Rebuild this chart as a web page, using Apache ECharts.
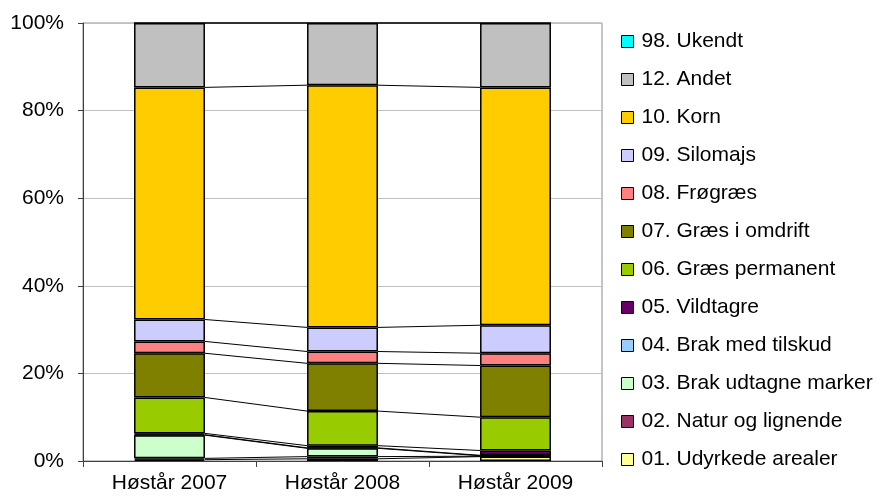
<!DOCTYPE html>
<html>
<head>
<meta charset="utf-8">
<script src="https://cdn.jsdelivr.net/npm/echarts@6/dist/echarts.min.js"></script>
<style>html,body{margin:0;padding:0;background:#fff}#c{width:877px;height:501px}</style>
</head>
<body>
<div id="c"></div>
<script>
const categories = ['Høstår 2007', 'Høstår 2008', 'Høstår 2009'];
const yTicks = [0, 20, 40, 60, 80, 100];

// series values (% of area), bottom to top
const s01 = [0.3, 0.5, 1.0];   // 01. Udyrkede arealer
const s02 = [0.3, 0.5, 0.1];   // 02. Natur og lignende
const s03 = [5.3, 1.9, 0.1];   // 03. Brak udtagne marker
const s04 = [0.1, 0.1, 0.1];   // 04. Brak med tilskud
const s05 = [0.3, 0.5, 1.1];   // 05. Vildtagre
const s06 = [8.2, 7.9, 7.6];   // 06. Græs permanent
const s07 = [10.1, 10.9, 11.8];// 07. Græs i omdrift
const s08 = [2.7, 2.7, 2.8];   // 08. Frøgræs
const s09 = [5.0, 5.5, 6.4];   // 09. Silomajs
const s10 = [53.0, 55.3, 54.3];// 10. Korn
const s12 = [14.7, 14.2, 14.7];// 12. Andet
const s98 = [0, 0, 0];         // 98. Ukendt

const seriesNames = ['01. Udyrkede arealer', '02. Natur og lignende', '03. Brak udtagne marker',
  '04. Brak med tilskud', '05. Vildtagre', '06. Græs permanent', '07. Græs i omdrift',
  '08. Frøgræs', '09. Silomajs', '10. Korn', '12. Andet', '98. Ukendt'];
const seriesValues = [s01, s02, s03, s04, s05, s06, s07, s08, s09, s10, s12, s98];
const seriesColors = ['#FFFF99', '#993366', '#CCFFCC', '#99CCFF', '#660066', '#99CC00',
  '#808000', '#FF8080', '#CCCCFF', '#FFCC00', '#C0C0C0', '#00FFFF'];

const BAR_FRAC = 0.41;
const FONT = "'Liberation Sans', Arial, sans-serif";

// cumulative tops for series lines
const lineData = [];
const cum = categories.map(() => 0);
seriesValues.forEach(vals => {
  const tops = vals.map((v, i) => (cum[i] += v));
  for (let i = 0; i < categories.length - 1; i++) {
    lineData.push([i, tops[i], tops[i + 1]]);
  }
});

const barSeries = seriesNames.map((name, k) => ({
  name: name,
  type: 'bar',
  stack: 'total',
  barWidth: (BAR_FRAC * 100) + '%',
  data: seriesValues[k],
  itemStyle: { color: seriesColors[k], borderColor: '#000', borderWidth: 1.5 },
  emphasis: { disabled: true },
  animation: false
}));

const chart = echarts.init(document.getElementById('c'));
chart.setOption({
  animation: false,
  backgroundColor: '#fff',
  grid: { left: 83, right: 275, top: 23, bottom: 40, show: true, borderColor: '#8c8c8c', borderWidth: 1, backgroundColor: 'transparent' },
  legend: {
    orient: 'vertical',
    left: 616,
    top: 26,
    itemWidth: 12,
    itemHeight: 12,
    itemGap: 17,
    icon: 'rect',
    data: seriesNames.slice().reverse(),
    itemStyle: { borderColor: '#000', borderWidth: 1 },
    textStyle: { fontFamily: FONT, fontSize: 21, lineHeight: 21, color: '#000', padding: [0, 0, 0, 3] }
  },
  xAxis: {
    type: 'category',
    data: categories,
    axisLine: { show: true, lineStyle: { color: '#404040', width: 1 } },
    axisTick: { show: true, length: 6, lineStyle: { color: '#404040' } },
    axisLabel: { fontFamily: FONT, fontSize: 21, color: '#000', margin: 12 }
  },
  yAxis: {
    type: 'value',
    min: yTicks[0],
    max: yTicks[yTicks.length - 1],
    interval: yTicks[1] - yTicks[0],
    axisLine: { show: true, lineStyle: { color: '#404040', width: 1 } },
    axisTick: { show: true, length: 5, lineStyle: { color: '#404040' } },
    axisLabel: { fontFamily: FONT, fontSize: 21, color: '#000', margin: 19, formatter: '{value}%' },
    splitLine: { show: true, lineStyle: { color: '#c0c0c0', width: 1 } }
  },
  series: barSeries.concat([{
    type: 'custom',
    name: 'serieslines',
    data: lineData,
    silent: true,
    z: 3,
    renderItem: function (params, api) {
      const i = api.value(0);
      const a = api.coord([i, api.value(1)]);
      const b = api.coord([i + 1, api.value(2)]);
      const hw = api.size([1, 0])[0] * BAR_FRAC / 2;
      return {
        type: 'line',
        shape: { x1: a[0] + hw, y1: a[1], x2: b[0] - hw, y2: b[1] },
        style: { stroke: '#000', lineWidth: 1 }
      };
    }
  }])
});
</script>
</body>
</html>
